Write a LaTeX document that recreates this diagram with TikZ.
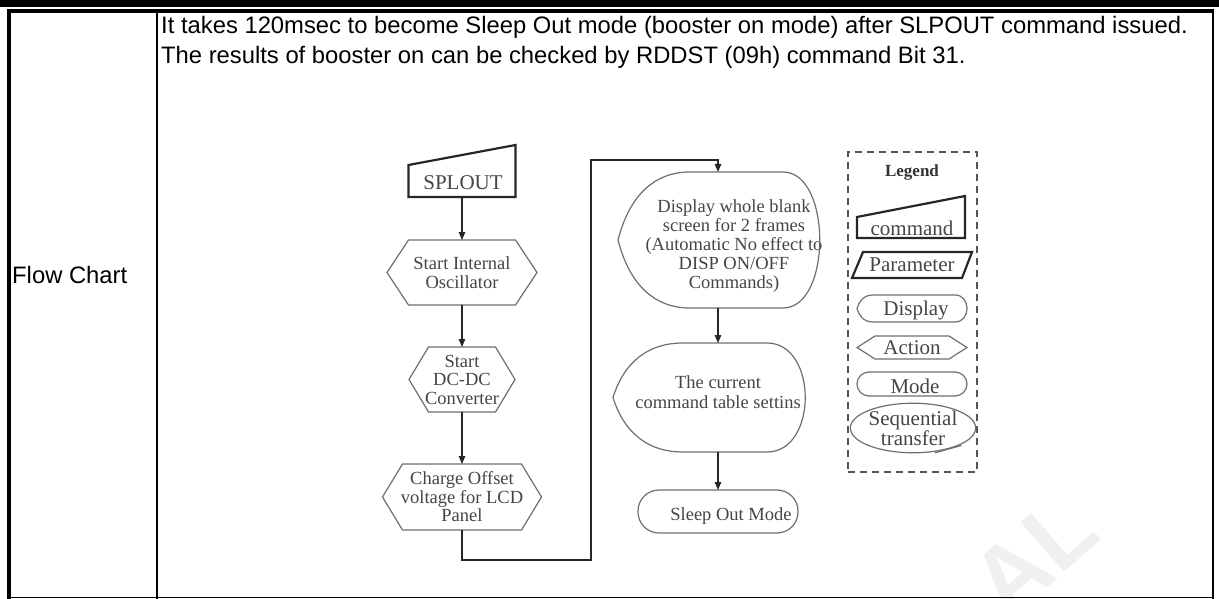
\documentclass[tikz,border=0pt]{standalone}
\usepackage{fontspec}
\setmainfont{Liberation Serif}
\newfontfamily\hdrfont{Liberation Sans}
\usepackage{tikz}
\usetikzlibrary{positioning, arrows.meta, calc, shapes.geometric}
\definecolor{cFrame}{HTML}{000000}
\definecolor{cFlow}  {HTML}{454545}
\definecolor{cEdge}  {HTML}{6E6E6E}
\definecolor{cLegend}{HTML}{555555}
\definecolor{cWater} {HTML}{F0F0F0}

\tikzset{
  hdr/.style={font=\hdrfont\fontsize{23.8}{28}\selectfont, anchor=base west, inner sep=0},
  fcnode/.style={inner sep=0, outer sep=0, text=cFlow, align=center,
    font=\fontsize{18.5}{18.5}\selectfont},
  lgnode/.style={fcnode, font=\fontsize{21}{15}\selectfont},
  fcline/.style={draw=cEdge, line width=1.2pt},
  cmdline/.style={draw=black!85, line width=2.2pt},
  arr/.style={draw=black!85, line width=1.2pt, -{Triangle[length=8pt, width=6.5pt]}},
}

\begin{document}
\begin{tikzpicture}[x=1pt, y=-1pt]
  \useasboundingbox (0,0) rectangle (1219,599);
  \node[font=\hdrfont\bfseries\fontsize{96}{96}\selectfont, text=cWater,
        anchor=base east, rotate=41, inner sep=0] (wmark) at (1104,538) {AL};
  % page bar and table frame
  \fill[cFrame] (0,0) rectangle (1219,7);
  \draw[cFrame, line width=4pt] (7,11.5) -- (1214,11.5);
  \draw[cFrame, line width=4pt] (9,9.5) -- (9,599);
  \draw[cFrame, line width=2pt] (1213,11) -- (1213,599);
  \draw[cFrame, line width=2pt] (157,11) -- (157,599);
  \draw[cFrame, line width=1.5pt] (7,597.5) -- (1214,597.5);

  \node[hdr] (intro1) at (161,34)
    {It takes 120msec to become Sleep Out mode (booster on mode) after SLPOUT command issued.};
  \node[hdr] (intro2) at (161,64)
    {The results of booster on can be checked by RDDST (09h) command Bit 31.};
  \node[hdr, anchor=west] (rowname) at (12,275) {Flow Chart};

  % flow, left column
  \node[fcnode, minimum width=107, minimum height=52] (splout) at (462,171) {};
  \node[fcnode, font=\fontsize{21}{21}\selectfont] (sploutxt) at (463,183) {SPLOUT};
  \node[fcnode, minimum width=150, minimum height=65] (hex1) at (462,272.5)
    {Start Internal\\Oscillator};
  \node[fcnode, minimum width=106, minimum height=65] (hex2) at (462,379.5)
    {Start\\DC-DC\\Converter};
  \node[fcnode, minimum width=159, minimum height=66] (hex3) at (462,497)
    {Charge Offset\\voltage for LCD\\Panel};

  % flow, right column
  \node[fcnode, minimum width=200, minimum height=136] (disp1) at (718,240) {};
  \node[fcnode, font=\fontsize{18.5}{19}\selectfont] (disp1txt) at (734,246)
    {Display whole blank\\screen for 2 frames\\(Automatic No effect to\\DISP ON/OFF\\Commands)};
  \node[fcnode, minimum width=210, minimum height=109] (disp2) at (718,397.5) {};
  \node[fcnode, font=\fontsize{18.5}{20}\selectfont] (disp2txt) at (718,392)
    {The current\\command table settins};
  \node[fcnode, draw=cEdge, line width=1.2pt, rounded corners=21pt,
        minimum width=160, minimum height=43] (mode) at (718,511.5) {};
  \node[fcnode] (modetxt) at (731,516) {Sleep Out Mode};

  % legend
  \node[draw=cLegend, line width=1.5pt, dash pattern=on 7pt off 5pt,
        minimum width=129, minimum height=320, inner sep=0] (legend) at (912.5,312) {};
  \node[font=\bfseries\fontsize{17}{17}\selectfont, text=black!80] (legendttl) at (912,172) {Legend};
  \node[lgnode, minimum width=108, minimum height=42] (lgcmd) at (911,217) {};
  \node[lgnode] (lgcmdtxt) at (912,228) {command};
  \node[lgnode, minimum width=120, minimum height=26] (lgpar) at (912,265) {Parameter};
  \node[lgnode, minimum width=110, minimum height=27] (lgdisp) at (912,308.5) {};
  \node[lgnode] (lgdisptxt) at (916,310) {Display};
  \node[lgnode, minimum width=110, minimum height=23] (lgact) at (912,347.5) {Action};
  \node[lgnode, draw=cEdge, line width=1.2pt, rounded corners=12pt,
        minimum width=110, minimum height=24] (lgmode) at (912,384) {};
  \node[lgnode] (lgmodetxt) at (915,386) {Mode};
  \node[lgnode, ellipse, draw=cEdge, line width=1.2pt,
        minimum width=114, minimum height=38] (lgseq) at (913,428) {Sequential\\transfer};

  % outlines
  \foreach \n/\d in {splout/20, lgcmd/21}
    \draw[cmdline] (\n.south west) -- ($(\n.north west)+(0,\d)$) -- (\n.north east)
      -- (\n.south east) -- cycle;
  \draw[cmdline] ($(lgpar.north west)+(11,0)$) -- (lgpar.north east)
    -- ($(lgpar.south east)+(-10,0)$) -- (lgpar.south west) -- cycle;
  \foreach \n/\d in {hex1/21.5, hex2/19.5, hex3/20, lgact/18}
    \draw[fcline] (\n.west) -- ($(\n.north west)+(\d,0)$) -- ($(\n.north east)+(-\d,0)$)
      -- (\n.east) -- ($(\n.south east)+(-\d,0)$) -- ($(\n.south west)+(\d,0)$) -- cycle;
  \foreach \n/\a/\b/\c in {disp1/72/35/14, disp2/70/56/-5, lgdisp/16/12/4}
    \draw[fcline] ($(\n.north west)+(\a,0)$) -- ($(\n.north east)+(-\b,0)$)
      .. controls ($(\n.north east)+(\c,0)$) and ($(\n.south east)+(\c,0)$)
      .. ($(\n.south east)+(-\b,0)$) -- ($(\n.south west)+(\a,0)$)
      .. controls ($(\n.south west)+(0.4*\a,0)$) and ($(\n.west)!0.5!(\n.south west)+(0.12*\a,0)$)
      .. (\n.west)
      .. controls ($(\n.west)!0.5!(\n.north west)+(0.12*\a,0)$) and ($(\n.north west)+(0.4*\a,0)$)
      .. cycle;
  \draw[fcline] ($(lgseq.south)+(22,0)$) -- ($(lgseq.south east)+(4,0)$);

  % connectors
  \coordinate (bendlow) at (591,560);
  \coordinate (bendtop) at (591,160);
  \draw[arr] (splout.south) -- (hex1.north);
  \draw[arr] (hex1.south) -- (hex2.north);
  \draw[arr] (hex2.south) -- (hex3.north);
  \draw[arr] (hex3.south) |- (bendlow) -- (bendtop) -| (disp1.north);
  \draw[arr] (disp1.south) -- (disp2.north);
  \draw[arr] (disp2.south) -- (mode.north);
\end{tikzpicture}
\end{document}
